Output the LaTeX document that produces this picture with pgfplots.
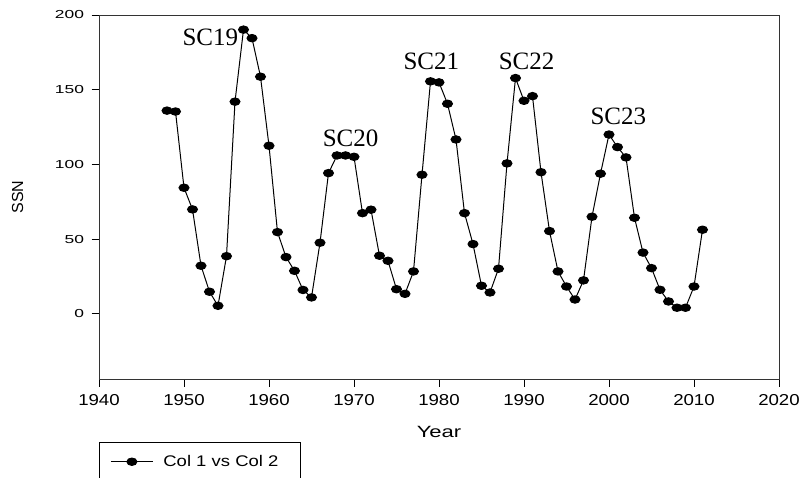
\documentclass[border=0pt]{standalone}
\usepackage{fontspec}
\setmainfont{Liberation Sans}
\newfontfamily\xtickfont{Liberation Sans}[FakeStretch=1.18]
\newfontfamily\ytickfont{Liberation Sans}[FakeStretch=1.5]
\newfontfamily\xlabfont{Liberation Sans}[FakeStretch=1.35]
\newfontfamily\legfont{Liberation Sans}[FakeStretch=1.2]
\newfontfamily\scfont{Liberation Serif}
\usepackage{pgfplots}
\pgfplotsset{compat=1.18}
\begin{document}
\begin{tikzpicture}
\begin{axis}[
  name=ax,
  scale only axis,
  width=680pt, height=364pt,
  xmin=1940, xmax=2020, ymin=-43.6, ymax=200,
  xtick={1940,1950,...,2020},
  ytick={0,50,100,150,200},
  xtick pos=lower, ytick pos=left,
  tick align=outside,
  major tick length=7.5pt,
  tick style={black, line width=0.8pt},
  axis line style={black!80, line width=0.8pt},
  /pgf/number format/assume math mode=true,
  /pgf/number format/1000 sep={},
  xticklabel style={font=\xtickfont\fontsize{15.8}{16}\selectfont, yshift=-4pt},
  yticklabel style={font=\ytickfont\fontsize{11.6}{12}\selectfont, xshift=-4pt},
  xlabel={Year},
  ylabel={SSN},
  every axis x label/.style={at={(rel axis cs:0.5,0)}, yshift=-58pt, anchor=base, font=\xlabfont\fontsize{16.3}{18}\selectfont},
  every axis y label/.style={at={(rel axis cs:0,0.5)}, xshift=-81.5pt, rotate=90, anchor=center, font=\fontsize{16}{17}\selectfont},
  legend style={at={(rel axis cs:0,0)}, anchor=north west, yshift=-63pt, draw=black, line width=0.8pt,
    font=\legfont\fontsize{15.4}{18}\selectfont, inner xsep=11pt, inner ysep=11pt},
  legend cell align=left,
  legend image code/.code={\draw[#1, mark repeat=2, mark phase=2] plot coordinates {(0pt,0pt) (21pt,0pt) (42pt,0pt)};},
]
\addplot[black, line width=1pt, mark=*, mark size=3.7pt, mark options={xscale=1.35, solid, fill=black}] coordinates {
(1948,136) (1949,135.4) (1950,84.4) (1951,69.9) (1952,32.2) (1953,14.8) (1954,5.4) (1955,38.6)
(1956,142) (1957,190.2) (1958,184.5) (1959,158.7) (1960,112.5) (1961,54.7) (1962,38) (1963,28.8)
(1964,16) (1965,11) (1966,47.6) (1967,94.2) (1968,106) (1969,106) (1970,105.1) (1971,67.4)
(1972,69.7) (1973,38.9) (1974,35.5) (1975,16.5) (1976,13.4) (1977,28.4) (1978,93.1) (1979,155.6)
(1980,154.9) (1981,140.6) (1982,116.7) (1983,67.4) (1984,46.7) (1985,18.8) (1986,14.3) (1987,30.2)
(1988,100.7) (1989,157.8) (1990,142.6) (1991,145.7) (1992,94.8) (1993,55.4) (1994,28.4) (1995,18.3)
(1996,9.6) (1997,22.4) (1998,65) (1999,93.8) (2000,120) (2001,111.6) (2002,104.7) (2003,64.3)
(2004,41) (2005,30.6) (2006,16.1) (2007,8.3) (2008,4.1) (2009,4.1) (2010,18.3) (2011,56.3)
};
\addlegendentry{\hspace{8pt}Col 1 vs Col 2\rule{9pt}{0pt}}
\node[font=\scfont\fontsize{25}{26}\selectfont] at (axis cs:1953.1,185.2) {SC19};
\node[font=\scfont\fontsize{25}{26}\selectfont] at (axis cs:1969.6,117.6) {SC20};
\node[font=\scfont\fontsize{25}{26}\selectfont] at (axis cs:1979.1,168.9) {SC21};
\node[font=\scfont\fontsize{25}{26}\selectfont] at (axis cs:1990.3,168.9) {SC22};
\node[font=\scfont\fontsize{25}{26}\selectfont] at (axis cs:2001.1,132.3) {SC23};
\end{axis}
\pgfresetboundingbox
\path[use as bounding box] (ax.south west) ++(-99pt,-98pt) rectangle ++(800pt,477pt);
\end{tikzpicture}
\end{document}
